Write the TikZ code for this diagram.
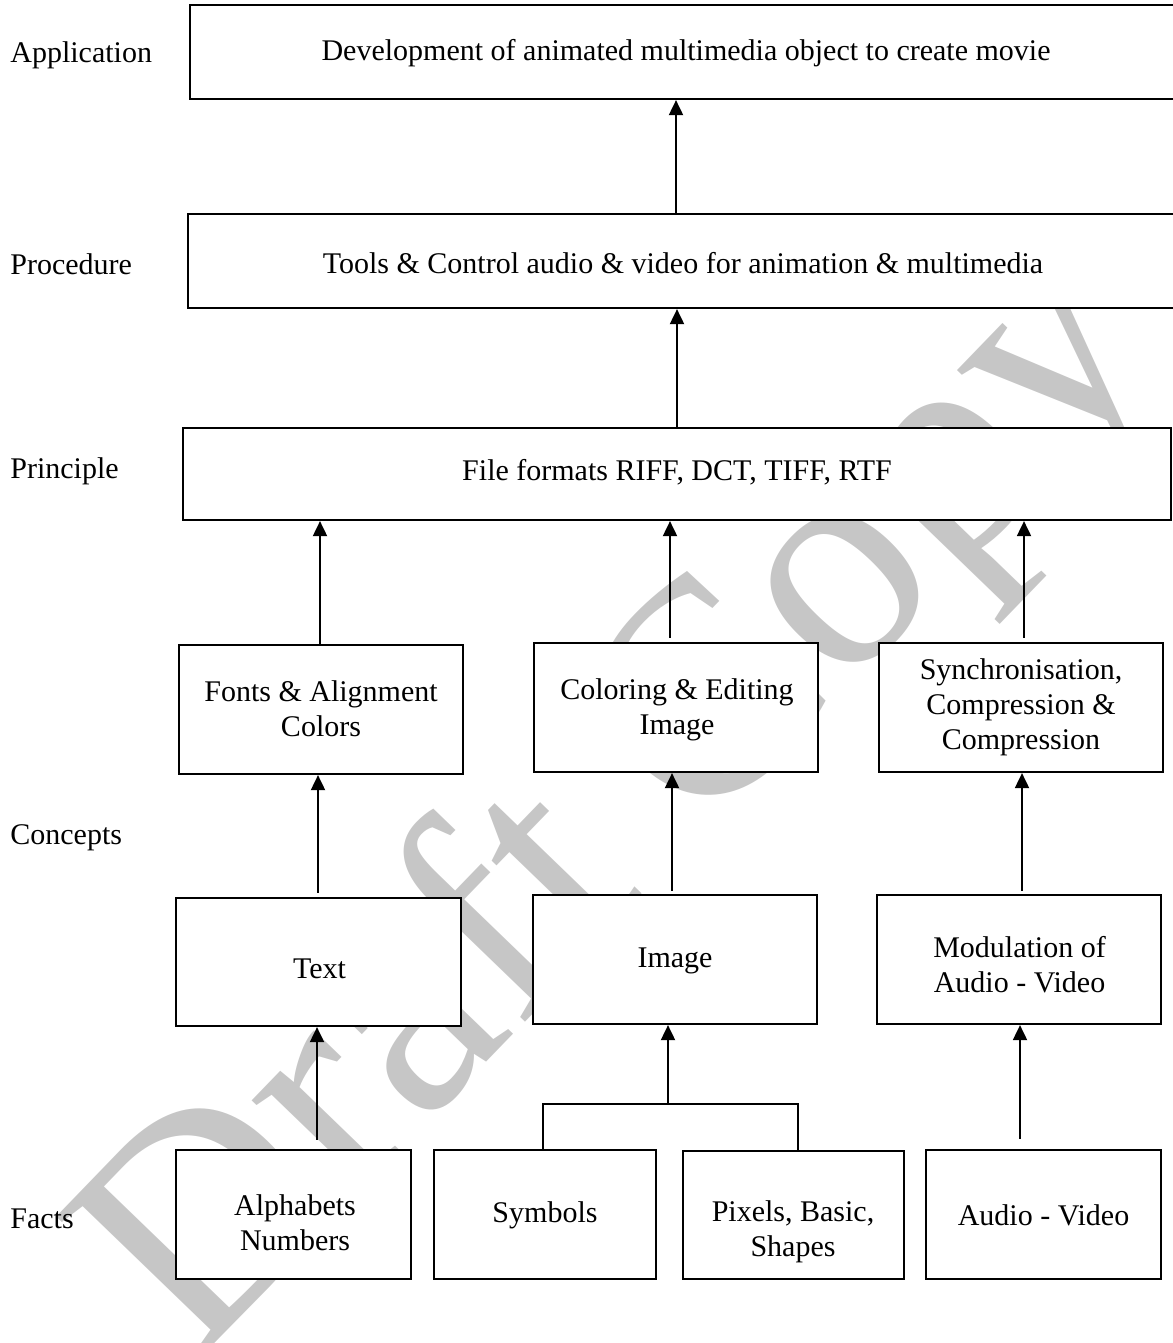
\documentclass[tikz,border=0pt]{standalone}
\usepackage{fontspec}
\setmainfont{Liberation Serif}
\usetikzlibrary{arrows.meta}
\begin{document}
\begin{tikzpicture}[x=0.5pt,y=-0.5pt,
  box/.style={draw=black, line width=1.1pt, fill=white, inner sep=0pt},
  txt/.style={align=center, inner sep=0pt, font=\fontsize{15pt}{17.6pt}\selectfont},
  side/.style={anchor=west, inner sep=0pt, font=\fontsize{15pt}{17.6pt}\selectfont},
  arr/.style={line width=0.95pt, -{Triangle[length=7.5pt,width=7pt]}},
  conn/.style={line width=0.95pt}]
\useasboundingbox (0,0) rectangle (1172,1343);
% watermark
\node[rotate=46, anchor=base west, inner sep=0pt, text=gray!45,
      font=\fontsize{154pt}{157pt}\selectfont] (wm) at (195,1364) {Draft Copy};
% side labels
\node[side] (l-app) at (10,55) {Application};
\node[side] (l-proc) at (10,264) {Procedure};
\node[side] (l-princ) at (10,471) {Principle};
\node[side] (l-conc) at (10,838) {Concepts};
\node[side] (l-facts) at (10,1219) {Facts};
% boxes
\node[box, minimum width=492pt, minimum height=47pt] (app) at (682,52) {};
\node[box, minimum width=493pt, minimum height=47pt] (proc) at (681,261) {};
\node[box, minimum width=494pt, minimum height=46pt] (princ) at (677,474) {};
\node[box, minimum width=142pt, minimum height=64.5pt] (fonts) at (321,709.5) {};
\node[box, minimum width=142pt, minimum height=64.5pt] (colbox) at (676,707.5) {};
\node[box, minimum width=142pt, minimum height=64.5pt] (sync) at (1021,707.5) {};
\node[box, minimum width=142.5pt, minimum height=64pt] (txtbox) at (318.5,962) {};
\node[box, minimum width=142pt, minimum height=64.5pt] (image) at (675,959.5) {};
\node[box, minimum width=142pt, minimum height=64.5pt] (mod) at (1019,959.5) {};
\node[box, minimum width=117.5pt, minimum height=64.5pt] (alpha) at (293.5,1214.5) {};
\node[box, minimum width=111pt, minimum height=64.5pt] (sym) at (545,1214.5) {};
\node[box, minimum width=110.5pt, minimum height=64pt] (pix) at (793.5,1215) {};
\node[box, minimum width=117.5pt, minimum height=64.5pt] (audio) at (1043.5,1214.5) {};
% texts
\node[txt] (t-app) at (686,53) {Development of animated multimedia object to create movie};
\node[txt] (t-proc) at (683,263) {Tools \& Control audio \& video for animation \& multimedia};
\node[txt] (t-princ) at (677,472) {File formats RIFF, DCT, TIFF, RTF};
\node[txt] (t-fonts) at (321,709) {Fonts \& Alignment\\Colors};
\node[txt] (t-col) at (677,710) {Coloring \& Editing\\Image};
\node[txt] (t-sync) at (1021,707) {Synchronisation,\\Compression \&\\Compression};
\node[txt] (t-text) at (319.5,969) {Text};
\node[txt] (t-image) at (675,961) {Image};
\node[txt] (t-mod) at (1019.5,965) {Modulation of\\Audio - Video};
\node[txt] (t-alpha) at (295,1223) {Alphabets\\Numbers};
\node[txt] (t-sym) at (545,1215) {Symbols};
\node[txt] (t-pix) at (793,1232) {Pixels, Basic,\\Shapes};
\node[txt] (t-audio) at (1043.5,1215) {Audio - Video};
% connector start points
\coordinate (a1) at ([xshift=-2.5pt]proc.north);
\coordinate (a2) at (princ.north);
\coordinate (a3) at ([xshift=-0.5pt]fonts.north);
\coordinate (a4) at ([xshift=-3pt,yshift=2pt]colbox.north);
\coordinate (a5) at ([xshift=1.5pt,yshift=2pt]sync.north);
\coordinate (a6) at ([xshift=-0.25pt,yshift=2pt]txtbox.north);
\coordinate (a7) at ([xshift=-1.5pt,yshift=1.5pt]image.north);
\coordinate (a8) at ([xshift=1.5pt,yshift=1.5pt]mod.north);
\coordinate (a9) at ([xshift=11.75pt,yshift=4.5pt]alpha.north);
\coordinate (a10) at ([xshift=-11.75pt,yshift=5pt]audio.north);
\coordinate (jl) at (543,1104);
\coordinate (jr) at (798,1104);
\coordinate (jm) at (668,1104);
% connectors
\draw[arr] (a1) -- (a1 |- app.south);
\draw[arr] (a2) -- (a2 |- proc.south);
\draw[arr] (a3) -- (a3 |- princ.south);
\draw[arr] (a4) -- (a4 |- princ.south);
\draw[arr] (a5) -- (a5 |- princ.south);
\draw[arr] (a6) -- (a6 |- fonts.south);
\draw[arr] (a7) -- (a7 |- colbox.south);
\draw[arr] (a8) -- (a8 |- sync.south);
\draw[arr] (a9) -- (a9 |- txtbox.south);
\draw[arr] (a10) -- (a10 |- mod.south);
\draw[conn] (jl |- sym.north) -- (jl) -- (jr) -- (jr |- pix.north);
\draw[arr] (jm) -- (jm |- image.south);
\end{tikzpicture}
\end{document}
